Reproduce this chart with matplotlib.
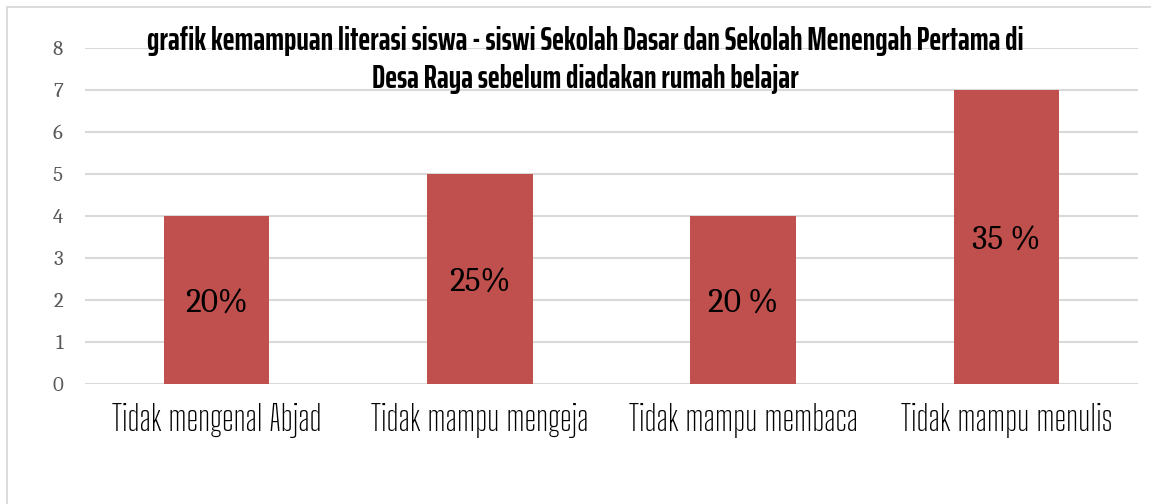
import matplotlib
matplotlib.use("Agg")
import matplotlib.pyplot as plt
from matplotlib.patches import Rectangle

categories = ["Tidak mengenal Abjad", "Tidak mampu mengeja", "Tidak mampu membaca", "Tidak mampu menulis"]
values = [4, 5, 4, 7]
bar_labels = ["20%", "25%", "20 %", "35 %"]
yticks = [0, 1, 2, 3, 4, 5, 6, 7, 8]
title_lines = ["grafik kemampuan literasi siswa - siswi Sekolah Dasar dan Sekolah Menengah Pertama di",
               "Desa Raya sebelum diadakan rumah belajar"]

W, H = 1151, 504
fig = plt.figure(figsize=(W / 100, H / 100), dpi=100)
fig.patch.set_facecolor("white")

# outer chart border
fig.patches.append(Rectangle((7 / W, -0.1), 1.2, 1 - 7 / H + 0.1, transform=fig.transFigure,
                             fill=False, edgecolor="#D9D9D9", linewidth=1.3))

ax = fig.add_axes([85 / W, 1 - 384 / H, (1138 - 85) / W, (384 - 48) / H])
x = range(len(categories))
ax.bar(x, values, width=0.4, color="#C0504D", zorder=3)
ax.set_xlim(-0.5, len(categories) - 0.5)
ax.set_ylim(0, 8)
ax.set_yticks(yticks)
ax.set_yticklabels([str(t) for t in yticks], family="Caladea", fontsize=15, color="#595959")
ax.set_xticks(list(x))
ax.set_xticklabels(categories, family="Big Shoulders Text", fontsize=25, color="black")
ax.tick_params(axis="y", length=0, pad=16)
ax.tick_params(axis="x", length=0, pad=14)
ax.yaxis.grid(True, color="#D9D9D9", linewidth=1.5, zorder=0)
ax.set_axisbelow(True)
for s in ax.spines.values():
    s.set_visible(False)

for xi, v, lab in zip(x, values, bar_labels):
    ax.text(xi, v / 2 - 0.1, lab, ha="center", va="center", family="Caladea", fontsize=24,
            color="black", zorder=4)

for line, base_y in zip(title_lines, [50, 88]):
    fig.text(585 / W, 1 - base_y / H, line, ha="center", va="baseline", family="Saira ExtraCondensed",
             weight="bold", fontsize=23, color="black")

fig.savefig("out.png", dpi=100)
